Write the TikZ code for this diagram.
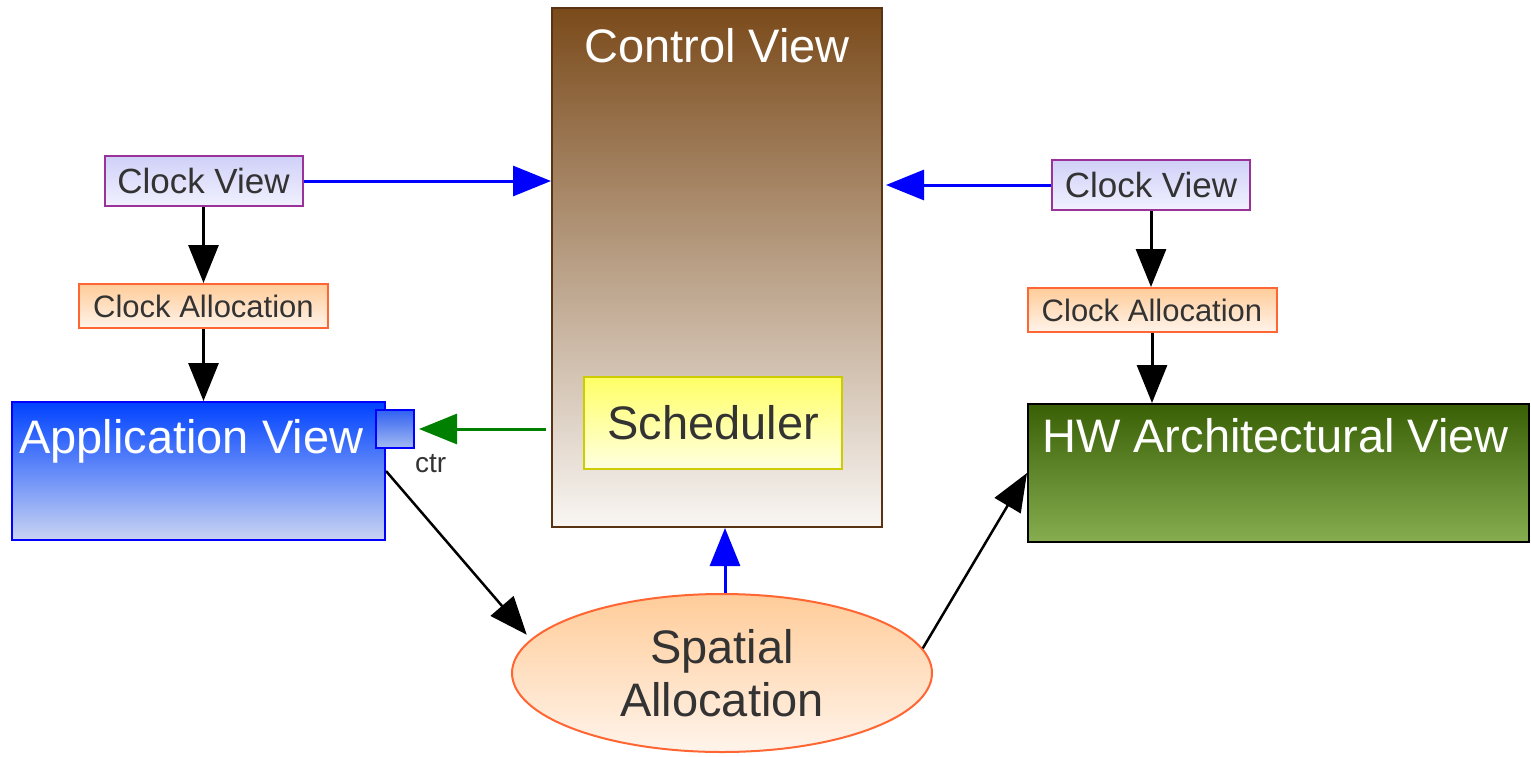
\documentclass[tikz,border=0pt]{standalone}
\usepackage{fontspec}
\setmainfont{Liberation Sans}
\usetikzlibrary{arrows.meta,shapes.geometric}

\newlength{\du}
\setlength{\du}{1pt}

\definecolor{txtgray}{rgb}{0.200000, 0.200000, 0.200000}
\definecolor{ctrltop}{rgb}{0.478000, 0.290000, 0.102000}
\definecolor{ctrlbot}{rgb}{0.976000, 0.965000, 0.953000}
\definecolor{ctrlborder}{rgb}{0.350000, 0.200000, 0.080000}
\definecolor{schedtop}{rgb}{1.000000, 1.000000, 0.400000}
\definecolor{schedbot}{rgb}{1.000000, 1.000000, 0.880000}
\definecolor{schedborder}{rgb}{0.800000, 0.800000, 0.000000}
\definecolor{ckvtop}{rgb}{0.816000, 0.816000, 0.973000}
\definecolor{ckvbot}{rgb}{0.945000, 0.945000, 1.000000}
\definecolor{ckvborder}{rgb}{0.600000, 0.200000, 0.600000}
\definecolor{allotop}{rgb}{1.000000, 0.800000, 0.600000}
\definecolor{allobot}{rgb}{1.000000, 0.955000, 0.920000}
\definecolor{alloborder}{rgb}{1.000000, 0.400000, 0.200000}
\definecolor{apptop}{rgb}{0.000000, 0.260000, 1.000000}
\definecolor{appbot}{rgb}{0.790000, 0.830000, 0.950000}
\definecolor{porttop}{rgb}{0.190000, 0.380000, 0.950000}
\definecolor{portbot}{rgb}{0.640000, 0.730000, 0.950000}
\definecolor{hwtop}{rgb}{0.227000, 0.376000, 0.024000}
\definecolor{hwbot}{rgb}{0.525000, 0.682000, 0.314000}
\definecolor{ctrgreen}{rgb}{0.000000, 0.500000, 0.000000}

\begin{document}
\begin{tikzpicture}[
  box/.style={rectangle, inner sep=0pt, line width=2\du},
  ctrlbox/.style={box, draw=ctrlborder, top color=ctrltop, bottom color=ctrlbot,
    minimum width=330\du, minimum height=519\du},
  schedbox/.style={box, draw=schedborder, top color=schedtop, bottom color=schedbot,
    minimum width=258\du, minimum height=92\du, text=txtgray,
    font=\fontsize{47}{53}\selectfont},
  clockbox/.style={box, draw=ckvborder, top color=ckvtop, bottom color=ckvbot,
    minimum width=198\du, minimum height=50\du, text=txtgray,
    font=\fontsize{35}{40}\selectfont},
  allocbox/.style={box, draw=alloborder, top color=allotop, bottom color=allobot,
    minimum width=249\du, minimum height=44\du, text=txtgray,
    font=\fontsize{31}{36}\selectfont},
  appbox/.style={box, draw=blue, top color=apptop, bottom color=appbot,
    minimum width=373\du, minimum height=138\du},
  portbox/.style={box, draw=blue, top color=porttop, bottom color=portbot,
    minimum width=38\du, minimum height=38\du},
  hwbox/.style={box, draw=black, top color=hwtop, bottom color=hwbot,
    minimum width=501\du, minimum height=138\du},
  spatialbox/.style={ellipse, inner sep=0pt, line width=2\du, draw=alloborder,
    top color=allotop, bottom color=allobot, minimum width=420\du,
    minimum height=158\du, text=txtgray, align=center,
    font=\fontsize{47}{53}\selectfont},
  title/.style={text=white, inner sep=0pt, font=\fontsize{47}{53}\selectfont},
  flow/.style={line width=3\du, -{Triangle[length=38pt,width=30pt]}},
  bflow/.style={flow, blue},
  gflow/.style={flow, ctrgreen}
]
\useasboundingbox (0\du,0\du) rectangle (1531\du,-756\du);

% control view
\node[ctrlbox] (ctrl) at (717\du,-267.5\du) {};
\node[title, anchor=base] (ctrltitle) at (717\du,-62\du) {Control View};
\node[schedbox] (sched) at (713\du,-423\du) {Scheduler};

% left side
\node[clockbox] (ckvL) at (203.5\du,-181\du) {Clock View};
\node[allocbox] (ckaL) at (203.5\du,-306\du) {Clock Allocation};
\node[appbox] (app) at (198.5\du,-471\du) {};
\node[title, anchor=base west] (apptitle) at (19\du,-453\du) {Application View};
\node[portbox] (port) at (395\du,-429\du) {};
\node[anchor=base west, inner sep=0pt, text=txtgray, font=\fontsize{28}{32}\selectfont]
  (ctrlabel) at (415\du,-472\du) {ctr};

% right side
\node[clockbox] (ckvR) at (1151\du,-185\du) {Clock View};
\node[allocbox] (ckaR) at (1152\du,-310\du) {Clock Allocation};
\node[hwbox] (hw) at (1278.5\du,-473\du) {};
\node[title, anchor=base west] (hwtitle) at (1042\du,-452\du) {HW Architectural View};

% spatial allocation
\node[spatialbox] (spatial) at (722\du,-673\du) {Spatial\\Allocation};

% connectors
\draw[bflow] (ckvL.east) -- (ckvL.east -| ctrl.west);
\draw[bflow, shorten >=3\du] (ckvR.west) -- (ckvR.west -| ctrl.east);
\draw[flow] (ckvL.south) -- (ckaL.north);
\draw[flow] (ckaL.south) -- (ckaL.south |- app.north);
\draw[flow] (ckvR.south) -- (ckvR.south |- ckaR.north);
\draw[flow] (ckaR.south) -- (ckaR.south |- hw.north);
\draw[gflow, shorten <=5\du, shorten >=4\du] (port.east -| ctrl.west) -- (port.east);
\draw[bflow] ([xshift=3\du]spatial.north) -- ([xshift=3\du]spatial.north |- ctrl.south);
\draw[flow, line width=2.5\du, shorten >=6\du] (app.east) -- (spatial.170);
\draw[flow, line width=2.5\du] (spatial.7) -- (hw.west);
\end{tikzpicture}
\end{document}
